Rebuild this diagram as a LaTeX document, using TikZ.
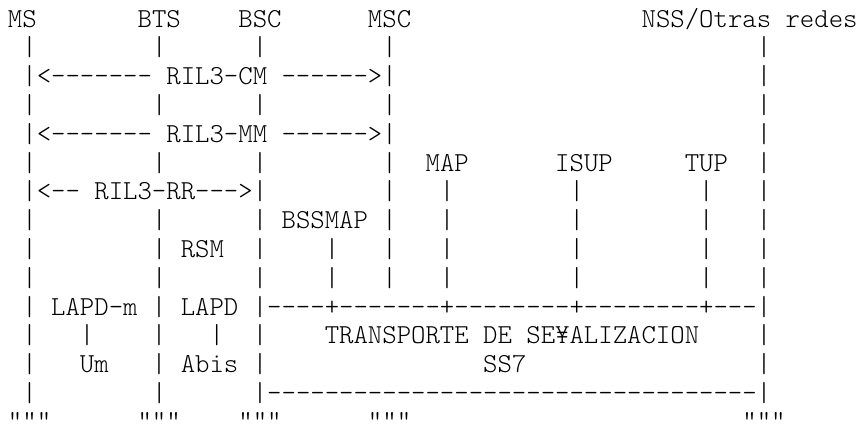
\documentclass[tikz,border=0pt]{standalone}
\usepackage{fontspec}
\setmonofont{lmmonolt10-regular.otf}
\usepackage{tikz}

% one column of the character grid
\newlength\cw
\setlength\cw{7.2pt}
\newcommand\gap[1]{\hspace*{#1\cw}}

\tikzset{
	line/.style={anchor=base west, inner sep=0pt, outer sep=0pt,
		font=\ttfamily\fontsize{13.714}{14.4}\selectfont}
}

\begin{document}
\begin{tikzpicture}
		\useasboundingbox (0,0) rectangle (430pt,-212.5pt);
		% entity names
		\node [line] (row0) at (4pt,-13.5pt) {MS\gap{7}BTS\gap{4}BSC\gap{6}MSC\gap{16}NSS/Otras redes};
		\node [line] (row1) at (4pt,-27.9pt) {\gap{1}|\gap{8}|\gap{6}|\gap{8}|\gap{25}|};
		% layer 3 peer protocols
		\node [line] (row2) at (4pt,-42.3pt) {\gap{1}|<------- RIL3-CM ------>|\gap{25}|};
		\node [line] (row3) at (4pt,-56.7pt) {\gap{1}|\gap{8}|\gap{6}|\gap{8}|\gap{25}|};
		\node [line] (row4) at (4pt,-71.1pt) {\gap{1}|<------- RIL3-MM ------>|\gap{25}|};
		\node [line] (row5) at (4pt,-85.5pt) {\gap{1}|\gap{8}|\gap{6}|\gap{8}|\gap{2}MAP\gap{6}ISUP\gap{5}TUP\gap{2}|};
		\node [line] (row6) at (4pt,-99.9pt) {\gap{1}|<-- RIL3-RR--->|\gap{8}|\gap{3}|\gap{8}|\gap{8}|\gap{3}|};
		\node [line] (row7) at (4pt,-114.3pt) {\gap{1}|\gap{8}|\gap{6}|\gap{1}BSSMAP\gap{1}|\gap{3}|\gap{8}|\gap{8}|\gap{3}|};
		\node [line] (row8) at (4pt,-128.7pt) {\gap{1}|\gap{8}|\gap{1}RSM\gap{2}|\gap{4}|\gap{3}|\gap{3}|\gap{8}|\gap{8}|\gap{3}|};
		\node [line] (row9) at (4pt,-143.1pt) {\gap{1}|\gap{8}|\gap{6}|\gap{4}|\gap{3}|\gap{3}|\gap{8}|\gap{8}|\gap{3}|};
		% link layers and SS7 transport
		\node [line] (row10) at (4pt,-157.5pt) {\gap{1}|\gap{1}LAPD-m\gap{1}|\gap{1}LAPD\gap{1}|----+-------+--------+--------+---|};
		\node [line] (row11) at (4pt,-171.9pt) {\gap{1}|\gap{3}|\gap{4}|\gap{3}|\gap{2}|\gap{4}TRANSPORTE DE SE¥ALIZACION\gap{4}|};
		\node [line] (row12) at (4pt,-186.3pt) {\gap{1}|\gap{3}Um\gap{3}|\gap{1}Abis\gap{1}|\gap{15}SS7\gap{16}|};
		\node [line] (row13) at (4pt,-200.7pt) {\gap{1}|\gap{8}|\gap{6}|----------------------------------|};
		\node [line] (row14) at (4pt,-214.5pt) {"""\gap{6}"""\gap{4}"""\gap{6}"""\gap{23}"""};
	\end{tikzpicture}
\end{document}
